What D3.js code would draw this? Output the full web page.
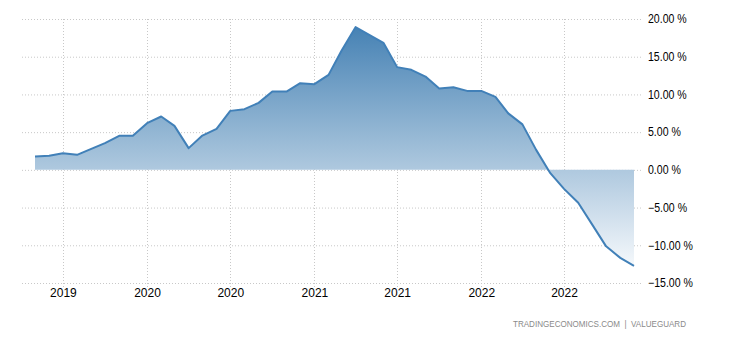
<!DOCTYPE html>
<html>
<head>
<meta charset="utf-8">
<script src="https://cdn.jsdelivr.net/npm/d3@7"></script>
<style>
  body { margin: 0; background: #fff; }
  svg { display: block; font-family: "Liberation Sans", Arial, sans-serif; }
</style>
</head>
<body>
<div id="chart"></div>
<script>
// monthly readings, May 2019 .. Dec 2022 (YoY %)
var months = d3.timeMonths(new Date(2019, 4, 1), new Date(2023, 0, 1));
var values = [1.76, 1.86, 2.21, 1.99, 2.78, 3.54, 4.51, 4.51, 6.19, 7.07,
  5.83, 2.88, 4.55, 5.44, 7.82, 8.05, 8.88, 10.38, 10.38, 11.49,
  11.36, 12.59, 15.76, 18.92, 17.90, 16.84, 13.62, 13.26, 12.37, 10.80,
  10.96, 10.47, 10.47, 9.68, 7.49, 6.03, 2.65, -0.44, -2.52, -4.37,
  -7.29, -10.14, -11.67, -12.73];
var yTicks = [20, 15, 10, 5, 0, -5, -10, -15];
var xTicks = [new Date(2019, 6, 1), new Date(2020, 0, 1), new Date(2020, 6, 1),
  new Date(2021, 0, 1), new Date(2021, 6, 1), new Date(2022, 0, 1), new Date(2022, 6, 1)];
var source = "TRADINGECONOMICS.COM  |  VALUEGUARD";

var data = months.map(function(m, i) { return { date: m, value: values[i] }; });

var svgWidth = 730;
var svgHeight = 340;

var svg = d3.select("#chart")
  .append("svg")
  .attr("width", svgWidth)
  .attr("height", svgHeight);

var x = d3.scaleTime()
  .domain(d3.extent(months))
  .range([35, 634]);

var y = d3.scaleLinear()
  .domain([-15, 20])
  .range([283, 19]);

// gradient for the area
var grad = svg.append("defs").append("linearGradient")
  .attr("id", "fillGrad")
  .attr("gradientUnits", "userSpaceOnUse")
  .attr("x1", 0).attr("x2", 0)
  .attr("y1", y(19)).attr("y2", y(-13));
grad.append("stop").attr("offset", "0%").attr("stop-color", "#4682b4");
grad.append("stop").attr("offset", "100%").attr("stop-color", "#f6f9fc");

// horizontal grid
svg.append("g")
  .selectAll("line")
  .data(yTicks)
  .enter()
  .append("line")
  .attr("x1", 22)
  .attr("x2", 643)
  .attr("y1", d => y(d) + 0.5)
  .attr("y2", d => y(d) + 0.5)
  .attr("stroke", "#c8c8c8")
  .attr("stroke-dasharray", "1,2");

// vertical grid
svg.append("g")
  .selectAll("line")
  .data(xTicks)
  .enter()
  .append("line")
  .attr("x1", d => Math.round(x(d)) + 0.5)
  .attr("x2", d => Math.round(x(d)) + 0.5)
  .attr("y1", y(20))
  .attr("y2", y(-15) + 4)
  .attr("stroke", "#c8c8c8")
  .attr("stroke-dasharray", "1,2");

// area between line and zero
var area = d3.area()
  .x(d => x(d.date))
  .y0(y(0))
  .y1(d => y(d.value));

svg.append("path")
  .datum(data)
  .attr("d", area)
  .attr("fill", "url(#fillGrad)");

var line = d3.line()
  .x(d => x(d.date))
  .y(d => y(d.value));

svg.append("path")
  .datum(data)
  .attr("d", line)
  .attr("fill", "none")
  .attr("stroke", "#4180b8")
  .attr("stroke-width", 2)
  .attr("stroke-linejoin", "round");

// right axis labels
var rightAxis = d3.axisRight(y)
  .tickValues(yTicks)
  .tickSize(0)
  .tickPadding(0)
  .tickFormat(d => d3.format(".2f")(d) + " %");

svg.append("g")
  .attr("transform", "translate(648, 0)")
  .call(rightAxis)
  .call(g => g.select(".domain").remove())
  .selectAll("text")
  .attr("font-size", 12)
  .attr("font-family", "'Liberation Sans', Arial, sans-serif")
  .attr("fill", "#000")
  .each(function() {
    // the reference glyphs are a bit narrower
    var w = this.getComputedTextLength();
    d3.select(this).attr("textLength", w * 0.88).attr("lengthAdjust", "spacingAndGlyphs");
  });

// bottom axis labels
var bottomAxis = d3.axisBottom(x)
  .tickValues(xTicks)
  .tickSize(0)
  .tickPadding(0)
  .tickFormat(d3.timeFormat("%Y"));

svg.append("g")
  .attr("transform", "translate(0, 288)")
  .call(bottomAxis)
  .call(g => g.select(".domain").remove())
  .selectAll("text")
  .attr("font-size", 12)
  .attr("font-family", "'Liberation Sans', Arial, sans-serif")
  .attr("fill", "#000");

// source note
svg.append("text")
  .attr("x", 686)
  .attr("y", 327)
  .attr("text-anchor", "end")
  .attr("font-size", 9.5)
  .attr("fill", "#8a8a8a")
  .attr("textLength", 173)
  .attr("lengthAdjust", "spacingAndGlyphs")
  .style("white-space", "pre")
  .text(source);
</script>
</body>
</html>
